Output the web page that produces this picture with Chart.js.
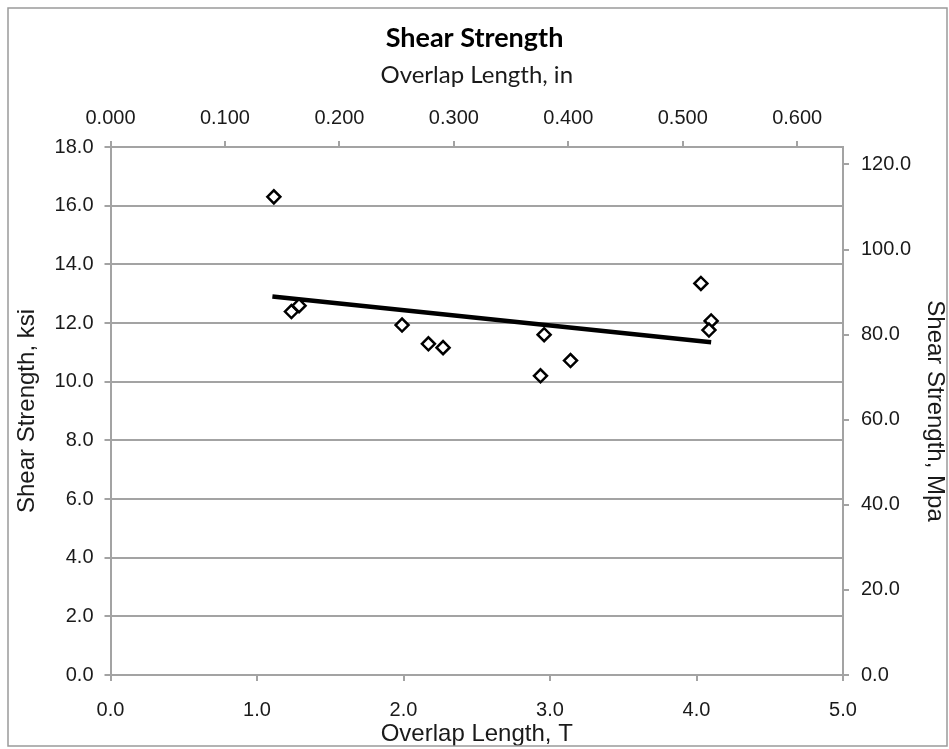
<!DOCTYPE html>
<html>
<head>
<meta charset="utf-8">
<script src="https://cdn.jsdelivr.net/npm/chart.js@4.4.1/dist/chart.umd.min.js"></script>
<style>
html,body{margin:0;padding:0;background:#fff;}
#wrap{width:949px;height:749px;position:relative;}
</style>
</head>
<body>
<div id="wrap"><canvas id="c" width="949" height="749"></canvas></div>
<script>
// Data
const overlapT = [1.115, 1.235, 1.287, 1.99, 2.17, 2.27, 2.96, 2.935, 3.14, 4.03, 4.10, 4.085];
const strengthKsi = [16.30, 12.39, 12.59, 11.93, 11.29, 11.16, 11.60, 10.20, 10.72, 13.35, 12.07, 11.76];
const trendT = [1.105, 4.10];
const trendKsi = [12.90, 11.34];
// Axis ranges / labels
const xRangeT = [0, 5];
const xRangeIn = [0, 0.64];
const yRangeKsi = [0, 18];
const yRangeMpa = [0, 124.1];

const TEXT = '#1a1a1a';
const GRID = '#a3a3a3';
const tickFont = {family: 'Liberation Sans, Arial, sans-serif', size: 20};
const axisTitleFont = {family: 'Liberation Sans, Arial, sans-serif', size: 24};

const borderPlugin = {
  id: 'outerBorder',
  afterDraw(chart) {
    const ctx = chart.ctx;
    ctx.save();
    ctx.strokeStyle = '#9a9a9a';
    ctx.lineWidth = 1.5;
    ctx.strokeRect(8, 8, 939, 738);
    ctx.restore();
  }
};

new Chart(document.getElementById('c'), {
  type: 'scatter',
  data: {
    datasets: [
      {
        label: 'Shear Strength',
        data: overlapT.map((x, i) => ({x: x, y: strengthKsi[i]})),
        xAxisID: 'x', yAxisID: 'y',
        pointStyle: 'rectRot',
        pointRadius: 6.5,
        pointBorderWidth: 2.5,
        pointBorderColor: '#000',
        pointBackgroundColor: '#fff',
        showLine: false
      },
      {
        label: 'Trend',
        data: trendT.map((x, i) => ({x: x, y: trendKsi[i]})),
        xAxisID: 'x', yAxisID: 'y',
        showLine: true,
        borderColor: '#000',
        borderWidth: 4.5,
        pointRadius: 0,
        fill: false
      }
    ]
  },
  options: {
    responsive: false,
    animation: false,
    layout: {padding: {left: 0, right: 0, top: 0, bottom: 0}},
    plugins: {
      legend: {display: false},
      tooltip: {enabled: false},
      title: {
        display: true,
        text: 'Shear Strength',
        color: '#000',
        font: {family: 'Lato, Open Sans, sans-serif', size: 27, weight: 'bold'},
        padding: {top: 21.8, bottom: 0}
      }
    },
    scales: {
      x: {
        type: 'linear', position: 'bottom',
        min: xRangeT[0], max: xRangeT[1],
        ticks: {stepSize: 1, color: TEXT, font: tickFont, padding: 17, maxRotation: 0,
          callback: v => Number(v).toFixed(1)},
        grid: {drawOnChartArea: false, color: GRID, lineWidth: 2, tickLength: 6, tickColor: GRID},
        border: {color: GRID, width: 2},
        title: {display: true, text: 'Overlap Length, T', color: TEXT, font: axisTitleFont, padding: {top: 0, bottom: 0}},
        afterFit: s => { s.height = 749 - 675; }
      },
      x2: {
        type: 'linear', position: 'top',
        min: xRangeIn[0], max: xRangeIn[1],
        ticks: {stepSize: 0.1, includeBounds: false, color: TEXT, font: tickFont, padding: 11, maxRotation: 0,
          callback: v => Number(v).toFixed(3)},
        grid: {drawOnChartArea: false, color: GRID, lineWidth: 2, tickLength: 6, tickColor: GRID},
        border: {color: GRID, width: 2},
        title: {display: true, text: 'Overlap Length, in', color: TEXT,
          font: {family: 'Lato, Open Sans, sans-serif', size: 24}, padding: {top: 6.4, bottom: 0}},
        afterFit: s => { s.height = 147 - 54.2; }
      },
      y: {
        type: 'linear', position: 'left',
        min: yRangeKsi[0], max: yRangeKsi[1],
        ticks: {stepSize: 2, color: TEXT, font: tickFont, padding: 11,
          callback: v => Number(v).toFixed(1)},
        grid: {drawOnChartArea: true, color: GRID, lineWidth: 2, tickLength: 6, tickColor: GRID},
        border: {color: GRID, width: 2},
        title: {display: true, text: 'Shear Strength, ksi', color: TEXT, font: axisTitleFont, padding: {top: 12.6, bottom: 0}},
        afterFit: s => { s.width = 110.5; }
      },
      y2: {
        type: 'linear', position: 'right',
        min: yRangeMpa[0], max: yRangeMpa[1],
        ticks: {stepSize: 20, includeBounds: false, color: TEXT, font: tickFont, padding: 12,
          callback: v => Number(v).toFixed(1)},
        grid: {drawOnChartArea: false, color: GRID, lineWidth: 2, tickLength: 6, tickColor: GRID},
        border: {color: GRID, width: 2},
        title: {display: true, text: 'Shear Strength, Mpa', color: TEXT, font: axisTitleFont, padding: {top: 0, bottom: 3.6}},
        afterFit: s => { s.width = 949 - 843; }
      }
    }
  },
  plugins: [borderPlugin]
});
</script>
</body>
</html>
